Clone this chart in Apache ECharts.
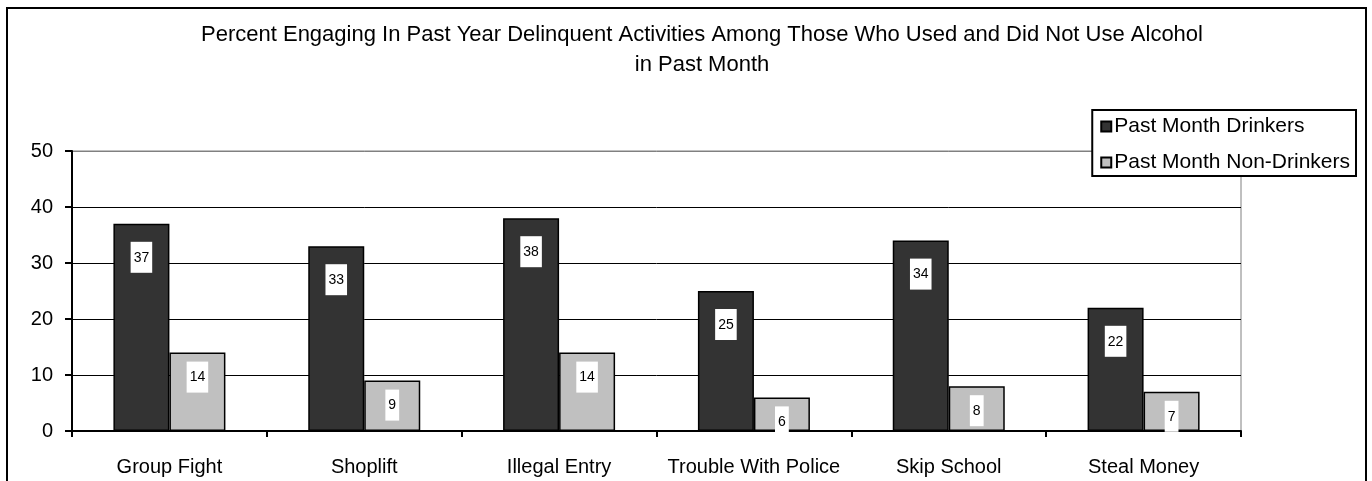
<!DOCTYPE html>
<html>
<head>
<meta charset="utf-8">
<script src="https://cdn.jsdelivr.net/npm/echarts@6/dist/echarts.min.js"></script>
<style>
  html, body { margin: 0; padding: 0; background: #fff; }
  #chart { width: 1372px; height: 481px; }
</style>
</head>
<body>
<div id="chart"></div>
<script>
const categories = ["Group Fight", "Shoplift", "Illegal Entry", "Trouble With Police", "Skip School", "Steal Money"];
const drinkers = [37, 33, 38, 25, 34, 22];
const nonDrinkers = [14, 9, 14, 6, 8, 7];
const seriesNames = ["Past Month Drinkers", "Past Month Non-Drinkers"];
const titleText = "Percent Engaging In Past Year Delinquent Activities Among Those Who Used and Did Not Use Alcohol\nin Past Month";

const font = "'Liberation Sans', Arial, sans-serif";
const chart = echarts.init(document.getElementById("chart"));

const labelStyle = (distance) => ({
  show: true,
  position: "insideTop",
  distance: distance,
  color: "#000",
  fontSize: 14,
  fontFamily: font,
  backgroundColor: "#fff",
  padding: [9, 3, 8, 3],
});

const option = {
  animation: false,
  backgroundColor: "#fff",
  title: {
    text: titleText,
    left: 702,
    top: 20,
    padding: 0,
    textAlign: "center",
    textStyle: {
      fontSize: 22,
      fontWeight: "normal",
      fontFamily: font,
      color: "#000",
      lineHeight: 30,
    },
  },
  legend: {
    orient: "vertical",
    right: 16,
    top: 110,
    padding: [6, 6, 3, 8],
    itemGap: 15,
    itemWidth: 10,
    itemHeight: 10,
    icon: "rect",
    borderColor: "#000",
    borderWidth: 2,
    backgroundColor: "#fff",
    textStyle: { fontSize: 21, fontFamily: font, color: "#000", padding: [0, 0, 0, -2] },
    data: seriesNames,
  },
  grid: {
    left: 72,
    right: 131,
    top: 151,
    bottom: 50,
    show: true,
    borderColor: "#808080",
    borderWidth: 1,
  },
  xAxis: {
    type: "category",
    data: categories,
    axisLine: { lineStyle: { color: "#000", width: 2 } },
    axisTick: { show: true, length: 6, lineStyle: { color: "#000", width: 2 } },
    axisLabel: { color: "#000", fontSize: 20, fontFamily: font, margin: 26, interval: 0 },
  },
  yAxis: {
    type: "value",
    min: 0,
    max: 50,
    interval: 10,
    axisLine: { show: true, lineStyle: { color: "#000", width: 2 } },
    axisTick: { show: true, length: 7, lineStyle: { color: "#000", width: 2 } },
    axisLabel: { color: "#000", fontSize: 20, fontFamily: font, margin: 19 },
    splitLine: {
      lineStyle: { color: ["#000", "#000", "#000", "#000", "#000", "#808080"], width: 1 },
    },
  },
  series: [
    {
      name: seriesNames[0],
      type: "bar",
      data: drinkers,
      barWidth: 56,
      barGap: "0%",
      itemStyle: { color: "#333333", borderColor: "#000", borderWidth: 1.5 },
      label: labelStyle(18),
    },
    {
      name: seriesNames[1],
      type: "bar",
      data: nonDrinkers,
      barWidth: 56,
      barGap: "0%",
      itemStyle: { color: "#c0c0c0", borderColor: "#000", borderWidth: 1.5 },
      label: labelStyle(9),
    },
  ],
  graphic: [
    {
      type: "rect",
      silent: true,
      z: 100,
      shape: { x: 7, y: 8, width: 1359, height: 500 },
      style: { fill: "none", stroke: "#000", lineWidth: 2 },
    },
  ],
};

chart.setOption(option);
</script>
</body>
</html>
